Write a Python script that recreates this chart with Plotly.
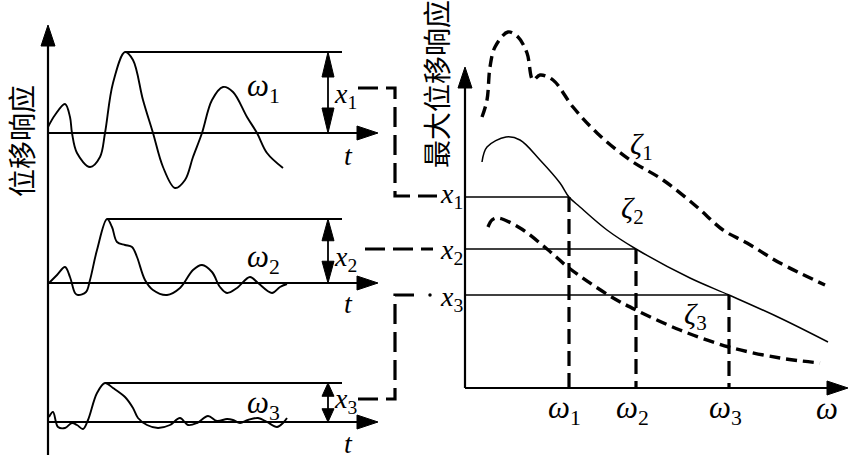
import plotly.graph_objects as go

W, H = 850, 460

# ---------------- left panel: displacement time histories ----------------
left_axis_x = 48
left_axis_top = 25
left_axis_bottom = 455
t_axis_end = 378
baselines = [133, 283, 422]          # t-axes of the three records
peak_x = [125, 107, 105]             # position of max displacement
peak_y = [52, 219, 383]
peak_line_end = 342
dbl_arrow_x = 328

resp1_x = [48, 55, 65, 70, 72, 77, 90, 100, 105, 113, 125, 133, 143, 153, 163, 175, 185, 193, 202, 212, 223, 233, 247, 257, 267, 283]
resp1_y = [127, 115, 104, 117, 133, 153, 167, 157, 133, 83, 52, 60, 100, 133, 167, 188, 180, 157, 133, 100, 87, 92, 117, 133, 153, 168]

resp2_x = [49, 57, 65, 70, 75, 78, 86, 90, 97, 107, 112, 117, 125, 132, 137, 145, 153, 167, 180, 193, 202, 212, 220, 227, 237, 250, 258, 272, 280, 287]
resp2_y = [283, 275, 267, 277, 293, 295, 292, 280, 250, 219, 227, 242, 245, 247, 257, 280, 290, 295, 288, 270, 265, 272, 287, 293, 288, 277, 283, 293, 287, 284]

resp3_x = [49, 53, 58, 65, 72, 77, 83, 88, 97, 105, 113, 125, 133, 138, 147, 158, 170, 180, 188, 197, 208, 217, 227, 233, 240, 248, 258, 267, 277, 283, 287]
resp3_y = [417, 412, 427, 428, 423, 425, 429, 420, 393, 383, 388, 397, 408, 418, 425, 428, 425, 418, 425, 423, 416, 421, 419, 420, 423, 420, 418, 422, 427, 423, 418]

omega_lbl = ["ω<sub>1</sub>", "ω<sub>2</sub>", "ω<sub>3</sub>"]
omega_lbl_left_xy = [(263, 88), (263, 259), (263, 405)]
x_lbl = ["x<sub>1</sub>", "x<sub>2</sub>", "x<sub>3</sub>"]
x_lbl_left_xy = [(345, 95), (345, 258), (345, 400)]
t_lbl_xy = [(348, 155), (348, 303), (348, 443)]

# ---------------- right panel: maximum displacement spectra ----------------
right_axis_x = 465
right_axis_top = 67
right_axis_y = 388
w_axis_end = 848
levels_y = [197, 249, 295]           # x1, x2, x3
omega_x = [569, 636, 729]            # omega1, omega2, omega3

zeta1_x = [482, 487, 490, 495, 508, 518, 527, 533, 540, 553, 573, 597, 630, 663, 697, 723, 747, 780, 825]
zeta1_y = [117, 100, 67, 47, 32, 37, 53, 80, 75, 80, 107, 133, 160, 180, 207, 230, 243, 263, 285]

zeta2_x = [482, 487, 506, 520, 540, 560, 569, 580, 607, 636, 690, 729, 780, 828]
zeta2_y = [162, 147, 137, 140, 160, 183, 197, 207, 230, 249, 278, 295, 318, 342]

zeta3_x = [488, 492, 498, 520, 547, 569, 610, 636, 680, 729, 780, 820]
zeta3_y = [227, 220, 218, 228, 249, 268, 296, 310, 330, 347, 358, 363]

zeta_lbl = ["ζ<sub>1</sub>", "ζ<sub>2</sub>", "ζ<sub>3</sub>"]
zeta_lbl_xy = [(641, 146), (632, 210), (695, 316)]
omega_lbl_right_xy = [(564, 410), (632, 410), (725, 410)]
x_lbl_right_xy = [(451, 195), (451, 251), (451, 298)]

# connectors from the left records to the right-panel levels
conn1_x = [358, 395, 395, 437]
conn1_y = [88, 88, 196, 196]
conn2_x = [365, 433]
conn2_y = [249, 249]
conn3_x = [358, 395, 395, 421]
conn3_y = [399, 399, 295, 295]

INK = "black"
SERIF = "Liberation Serif"
CJK = "Noto Sans CJK SC"

fig = go.Figure()


def line(xs, ys, width=2.0, dash="solid", shape="linear"):
    fig.add_trace(go.Scatter(x=xs, y=ys, mode="lines", hoverinfo="skip",
                             line=dict(color=INK, width=width, dash=dash, shape=shape, smoothing=1.0)))


def tri(tip, direction, length, half):
    x0, y0 = tip
    if direction == "up":
        xs = [x0, x0 - half, x0 + half, x0]
        ys = [y0, y0 + length, y0 + length, y0]
    elif direction == "down":
        xs = [x0, x0 - half, x0 + half, x0]
        ys = [y0, y0 - length, y0 - length, y0]
    else:  # right
        xs = [x0, x0 - length, x0 - length, x0]
        ys = [y0, y0 - half, y0 + half, y0]
    fig.add_trace(go.Scatter(x=xs, y=ys, mode="lines", fill="toself", fillcolor=INK,
                             hoverinfo="skip", line=dict(color=INK, width=1)))


# left axes
line([left_axis_x, left_axis_x], [left_axis_top + 10, left_axis_bottom], 2.2)
tri((left_axis_x, left_axis_top), "up", 21, 7)
for i, b in enumerate(baselines):
    line([left_axis_x, t_axis_end - 10], [b, b], 2.2)
    tri((t_axis_end, b), "right", 21, 7)
    line([peak_x[i], peak_line_end], [peak_y[i], peak_y[i]], 2.0)
    # double arrow for the max value
    line([dbl_arrow_x, dbl_arrow_x], [peak_y[i] + 10, b - 10], 1.8)
    hl = min(25, (b - peak_y[i]) * 0.34)
    tri((dbl_arrow_x, peak_y[i]), "up", hl, 6)
    tri((dbl_arrow_x, b), "down", hl, 6)

for xs, ys in [(resp1_x, resp1_y), (resp2_x, resp2_y), (resp3_x, resp3_y)]:
    line(xs, ys, 1.9, shape="spline")

# connectors
for xs, ys in [(conn1_x, conn1_y), (conn2_x, conn2_y), (conn3_x, conn3_y)]:
    line(xs, ys, 3.2, dash="20px,8px")
fig.add_trace(go.Scatter(x=[conn3_x[-1] + 9], y=[conn3_y[-1]], mode="markers", hoverinfo="skip",
                         marker=dict(color=INK, size=3.5)))

# right axes
line([right_axis_x, right_axis_x], [right_axis_top + 10, right_axis_y], 2.2)
tri((right_axis_x, right_axis_top), "up", 21, 7)
line([right_axis_x, w_axis_end - 10], [right_axis_y, right_axis_y], 2.2)
tri((w_axis_end, right_axis_y), "right", 21, 7)

for ly, ox in zip(levels_y, omega_x):
    line([right_axis_x, ox], [ly, ly], 1.5)
    line([ox, ox], [ly, right_axis_y], 3.2, dash="15px,7px")

line(zeta1_x, zeta1_y, 3.4, dash="11px,6px", shape="spline")
line(zeta2_x, zeta2_y, 1.5, shape="spline")
line(zeta3_x, zeta3_y, 3.4, dash="11px,6px", shape="spline")

annotations = []


def text(s, xy, size=28, family=SERIF, angle=0):
    annotations.append(dict(x=xy[0], y=xy[1], text=s, showarrow=False, textangle=angle,
                            xanchor="center", yanchor="middle",
                            font=dict(family=family, size=size, color=INK)))


def ital(s):
    return "<i>" + s.replace("<sub>", "</i><sub>")


for s, xy in zip(omega_lbl, omega_lbl_left_xy):
    text(ital(s), xy, size=31)
for s, xy in zip(x_lbl, x_lbl_left_xy):
    text(ital(s), xy)
for xy in t_lbl_xy:
    text("<i>t</i>", xy)
for s, xy in zip(x_lbl, x_lbl_right_xy):
    text(ital(s), xy)
for s, xy in zip(omega_lbl, omega_lbl_right_xy):
    text(ital(s), xy, size=31)
text("<i>ω</i>", (827, 408), size=31)
for s, xy in zip(zeta_lbl, zeta_lbl_xy):
    text(ital(s), xy, size=30)

text("位移响应", (21, 141), size=28, family=CJK, angle=-90)
text("最大位移响应", (436, 84), size=28, family=CJK, angle=-90)

fig.update_layout(
    width=W, height=H, margin=dict(l=0, r=0, t=0, b=0),
    paper_bgcolor="white", plot_bgcolor="white", showlegend=False,
    xaxis=dict(range=[0, W], visible=False, fixedrange=True),
    yaxis=dict(range=[H, 0], visible=False, fixedrange=True),
    annotations=annotations,
)

fig.write_html("out.html", config={"displayModeBar": False},
               post_script="document.body.style.margin='0';document.body.style.overflow='hidden';")
